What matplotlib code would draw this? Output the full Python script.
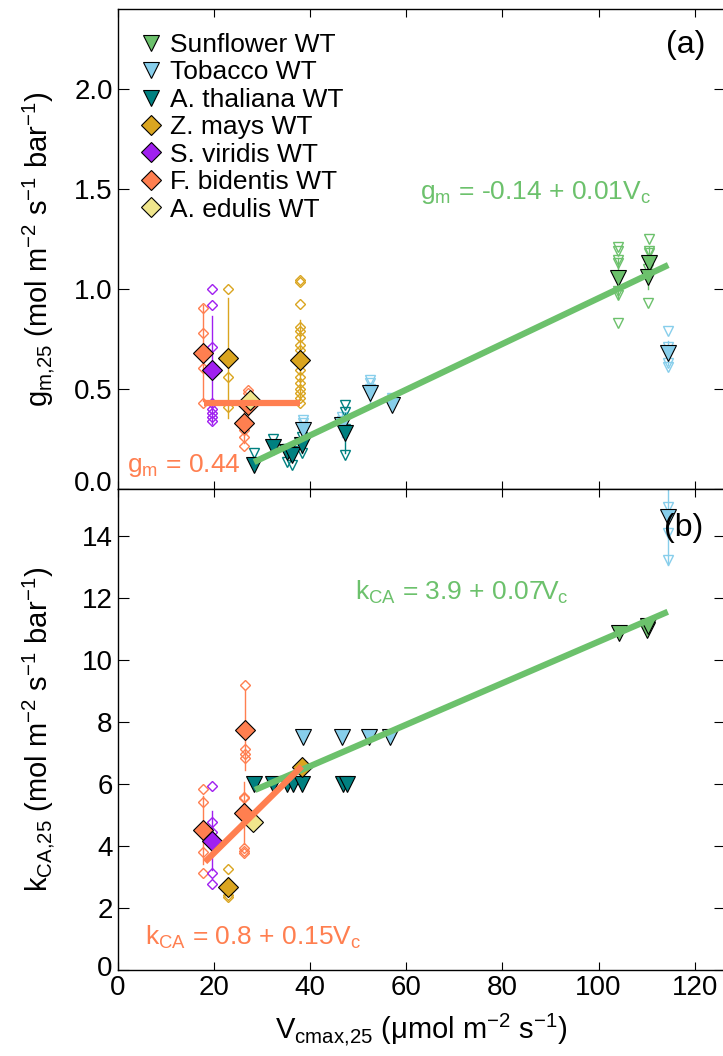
import matplotlib
matplotlib.use('Agg')
import matplotlib.pyplot as plt
from matplotlib.lines import Line2D
import matplotlib.transforms as mtransforms

plt.rcParams['font.family'] = ['Liberation Sans', 'DejaVu Sans']
plt.rcParams['mathtext.fontset'] = 'custom'
plt.rcParams['mathtext.rm'] = 'Liberation Sans'
plt.rcParams['mathtext.it'] = 'Liberation Sans:italic'
plt.rcParams['mathtext.bf'] = 'Liberation Sans:bold'

# ---------------- data ----------------
species = ['Sunflower WT', 'Tobacco WT', 'A. thaliana WT', 'Z. mays WT',
           'S. viridis WT', 'F. bidentis WT', 'A. edulis WT']
colors = ['#6cc16c', '#87ceeb', '#008080', '#daa520', '#a020f0', '#ff7f50', '#f0e68c']
markers = ['v', 'v', 'v', 'D', 'D', 'D', 'D']

# panel (a): g_m,25
a_sp = [2, 2, 2, 2, 2, 1, 1, 2, 1, 1, 0, 0, 0, 1,
        5, 4, 3, 3, 5, 5, 6]
a_x = [28.4, 32.3, 35.2, 36.3, 38.4, 38.6, 46.7, 47.2, 52.5, 57.0, 104.1, 110.4, 110.2, 114.5,
       17.8, 19.6, 22.9, 38.0, 26.2, 27.2, 27.6]
a_y = [0.12, 0.21, 0.185, 0.17, 0.22, 0.295, 0.32, 0.28, 0.48, 0.42, 1.053, 1.13, 1.06, 0.68,
       0.68, 0.595, 0.655, 0.645, 0.33, 0.42, 0.445]
a_err = [0.03, 0.03, 0.03, 0.03, 0.04, 0.04, 0.06, 0.1, 0.05, 0.03, 0.1, 0.08, 0.06, 0.06,
         0.24, 0.27, 0.3, 0.2, 0.1, 0.06, 0.0]
a_reps = [[0.18], [0.25, 0.22], [0.135, 0.2], [0.12, 0.19], [0.26, 0.18], [0.345, 0.33, 0.31],
          [0.36, 0.34], [0.42, 0.385, 0.17, 0.3], [0.545, 0.53, 0.5], [0.455],
          [1.21, 1.19, 1.145, 1.13, 0.99, 0.97, 0.83], [1.25, 1.19, 1.18], [0.93, 1.1], [0.79, 0.71, 0.63, 0.61],
          [0.905, 0.78, 0.605, 0.43], [1.0, 0.92, 0.71, 0.43, 0.40, 0.38, 0.36, 0.34], [1.0, 0.56, 0.41],
          [1.045, 1.037, 0.925, 0.81, 0.79, 0.76, 0.72, 0.695, 0.66, 0.63, 0.595, 0.56, 0.53, 0.50, 0.48, 0.455, 0.43],
          [0.295, 0.26, 0.215], [0.495, 0.48], []]

# panel (b): k_CA,25
b_sp = [2, 2, 2, 2, 2, 2, 2, 1, 1, 1, 1, 1, 0, 0, 0,
        5, 4, 3, 5, 5, 6, 3]
b_x = [28.3, 32.3, 35.3, 36.5, 38.4, 46.9, 47.8, 38.6, 46.7, 52.3, 56.7, 114.5, 104.3, 110.1, 110.3,
       17.8, 19.6, 23.0, 26.5, 26.3, 28.2, 38.4]
b_y = [6.0, 6.0, 6.0, 6.0, 6.0, 6.0, 6.0, 7.5, 7.5, 7.5, 7.5, 14.6, 10.86, 10.96, 11.1,
       4.51, 4.16, 2.67, 7.73, 5.06, 4.77, 6.55]
b_err = [0, 0, 0, 0, 0, 0, 0, 0, 0, 0, 0, 1.55, 0, 0, 0,
         1.1, 0.95, 0.3, 1.3, 1.0, 0, 0]
b_reps = [[], [], [], [], [], [], [], [], [], [], [], [14.92, 14.08, 13.21], [], [], [],
          [5.83, 5.41, 3.80, 3.13], [5.93, 4.77, 4.45, 3.13, 2.77], [3.25, 2.42, 2.35],
          [9.18, 7.12, 6.96, 6.83], [5.58, 5.54, 3.93, 3.83, 3.77], [], []]

# fitted lines (as drawn)
a_c3_fit = dict(b0=-0.19, b1=0.01144, xr=(28.4, 114.5))
a_c4_fit = dict(b0=0.43, b1=0.0, xr=(17.9, 37.9))
b_c3_fit = dict(b0=3.89, b1=0.0669, xr=(28.6, 114.4))
b_c4_fit = dict(b0=0.70, b1=0.153, xr=(18.2, 38.3))

green_line = '#6cc16c'
orange_line = '#ff7f50'

# ---------------- figure ----------------
W, H = 723, 1056
fig = plt.figure(figsize=(W / 100, H / 100), dpi=100)
left = 117.5 / W
width = 607 / W
axa = fig.add_axes([left, (H - 489) / H, width, 480 / H])
axb = fig.add_axes([left, (H - 970) / H, width, 481 / H])


def draw(ax, sp, xs, ys, errs, reps):
    for s, x, y, e, r in zip(sp, xs, ys, errs, reps):
        c = colors[s]
        m = markers[s]
        if e > 0:
            ax.plot([x, x], [y - e, y + e], color=c, lw=1.0, zorder=2)
        if r:
            ax.plot([x] * len(r), r, linestyle='none', marker=m, ms=6.5 if m == 'v' else 5.5,
                    mfc='none', mec=c, mew=1.0, zorder=2)
    for s, x, y in zip(sp, xs, ys):
        m = markers[s]
        ax.plot([x], [y], linestyle='none', marker=m, ms=12 if m == 'v' else 10,
                mfc=colors[s], mec='black', mew=0.8, zorder=3)


def fitline(ax, f, color):
    x0, x1 = f['xr']
    ax.plot([x0, x1], [f['b0'] + f['b1'] * x0, f['b0'] + f['b1'] * x1], color=color,
            lw=4.5, solid_capstyle='butt', zorder=4)


draw(axa, a_sp, a_x, a_y, a_err, a_reps)
draw(axb, b_sp, b_x, b_y, b_err, b_reps)
fitline(axa, a_c3_fit, green_line)
fitline(axa, a_c4_fit, orange_line)
fitline(axb, b_c3_fit, green_line)
fitline(axb, b_c4_fit, orange_line)

for ax in (axa, axb):
    ax.set_xlim(0, 607 / 4.81)
    ax.set_xticks([0, 20, 40, 60, 80, 100, 120])
    ax.tick_params(axis='both', direction='in', top=True, right=True, labelsize=20)
    ax.tick_params(axis='x', length=6, width=0.8)
    ax.tick_params(axis='y', length=8, width=0.8)
    for sp_ in ax.spines.values():
        sp_.set_linewidth(1.0)

axa.set_ylim(0, 2.4)
axa.set_yticks([0.0, 0.5, 1.0, 1.5, 2.0])
axa.set_yticklabels(['0.0', '0.5', '1.0', '1.5', '2.0'])
axa.tick_params(axis='x', labelbottom=False)
axb.set_ylim(0, 15.5)
axb.set_yticks([0, 2, 4, 6, 8, 10, 12, 14])

axa.set_ylabel(r'g$_\mathrm{m{,}25}$ (mol m$^\mathrm{-2}$ s$^\mathrm{-1}$ bar$^\mathrm{-1}$)', fontsize=21)
axb.set_ylabel(r'k$_\mathrm{CA{,}25}$ (mol m$^\mathrm{-2}$ s$^\mathrm{-1}$ bar$^\mathrm{-1}$)', fontsize=21)
axb.set_xlabel(r'V$_\mathrm{cmax{,}25}$ ($\mathrm{\mu}$mol m$^\mathrm{-2}$ s$^\mathrm{-1}$)', fontsize=21,
               labelpad=8)
axa.yaxis.set_label_coords(-0.1, 0.5)
axb.yaxis.set_label_coords(-0.1, 0.5)

# shift bottom tick labels up slightly
fig.canvas.draw()
for ax, dy in ((axa, 8), (axb, 4)):
    lab = ax.get_yticklabels()[0]
    lab.set_transform(lab.get_transform() + mtransforms.ScaledTranslation(0, dy / 100, fig.dpi_scale_trans))


def ptext(x, y, s, **kw):
    fig.text(x / W, 1 - y / H, s, **kw)


# equations (positions in pixels from top-left)
ptext(420, 192, r'g$_\mathrm{m}$ = -0.14 + 0.01V$_\mathrm{c}$', fontsize=19, color=green_line, va='center')
ptext(127, 465, r'g$_\mathrm{m}$ = 0.44', fontsize=19, color=orange_line, va='center')
ptext(355, 592, r'k$_\mathrm{CA}$ = 3.9 + 0.07V$_\mathrm{c}$', fontsize=19, color=green_line, va='center')
ptext(145, 937, r'k$_\mathrm{CA}$ = 0.8 + 0.15V$_\mathrm{c}$', fontsize=19, color=orange_line, va='center')

ptext(686, 45, '(a)', fontsize=23, ha='center', va='center')
ptext(684, 528, '(b)', fontsize=23, ha='center', va='center')

handles = [Line2D([], [], linestyle='none', marker=markers[i], ms=12 if markers[i] == 'v' else 10,
                  mfc=colors[i], mec='black', mew=0.8) for i in range(len(species))]
axa.legend(handles, species, loc='upper left', frameon=False, fontsize=19, handletextpad=0.25,
           labelspacing=0.13, borderaxespad=0, borderpad=0, handlelength=1.0,
           bbox_to_anchor=((117.5 + 20) / W, 1 - 33 / H), bbox_transform=fig.transFigure)

fig.savefig('out.png', dpi=100)
